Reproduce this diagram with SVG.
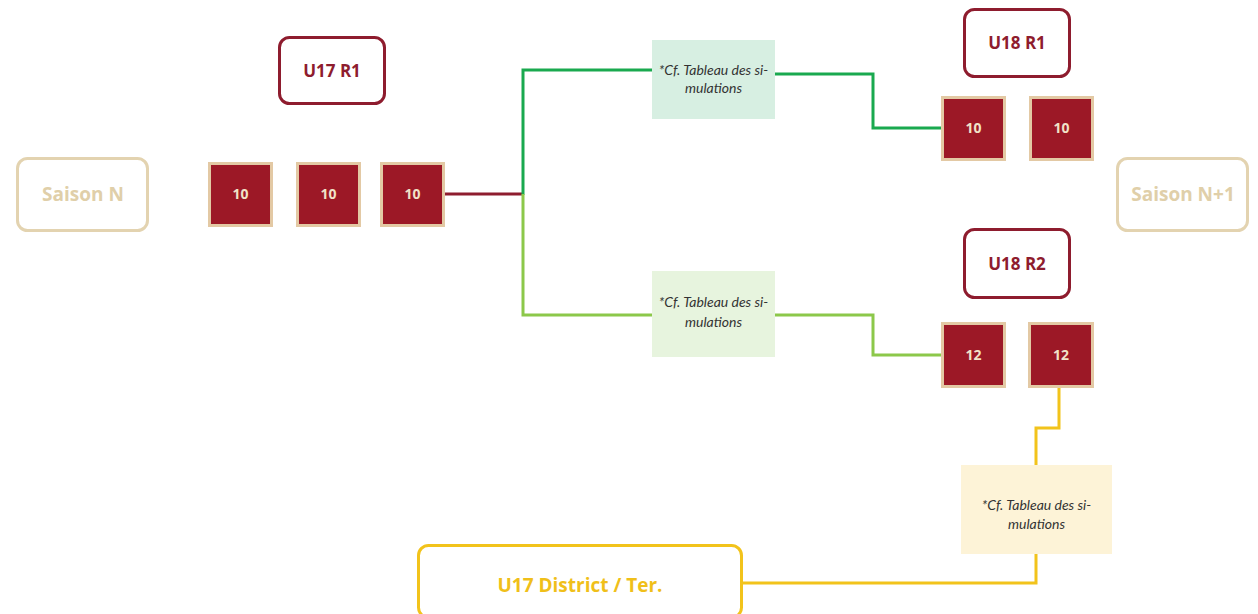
<svg xmlns="http://www.w3.org/2000/svg" width="1258" height="614" viewBox="0 0 1258 614">
<style>
.season{fill:#fff;stroke:#e3d3b0;stroke-width:3}
.season-t{font-family:"Open Sans","Liberation Sans",sans-serif;font-weight:700;font-size:19px;fill:#e0cfa9;text-anchor:middle}
.team{fill:#fff;stroke:#8e1c2e;stroke-width:3}
.team-t{font-family:"Open Sans","Liberation Sans",sans-serif;font-weight:700;font-size:17px;fill:#8e1c2e;text-anchor:middle}
.sq{fill:#9c1826;stroke:#e3c9a4;stroke-width:3}
.sq-t{font-family:"Open Sans","Liberation Sans",sans-serif;font-weight:700;font-size:14px;fill:#f1e2c8;text-anchor:middle}
.note-t{font-family:Lato,"Open Sans","Liberation Sans",sans-serif;font-style:italic;font-size:14px;fill:#333;text-anchor:middle}
.dist{fill:#fff;stroke:#f2c31b;stroke-width:3}
.dist-t{font-family:"Open Sans","Liberation Sans",sans-serif;font-weight:700;font-size:19px;fill:#f0bf1a;text-anchor:middle}
.c{fill:none;stroke-width:3}
</style>
<rect width="1258" height="614" fill="#fff"/>
<g id="connectors">
<path class="c" stroke="#8e1c2e" d="M445 194H524"/>
<path class="c" stroke="#1aa94f" d="M523 195V70H652"/>
<path class="c" stroke="#1aa94f" d="M775 74H873V128H942"/>
<path class="c" stroke="#8cc84a" d="M523 194V315H652"/>
<path class="c" stroke="#8cc84a" d="M775 315H873V355H942"/>
<path class="c" stroke="#f2c31b" d="M1059 387V428H1036V465"/>
<path class="c" stroke="#f2c31b" d="M1036 553V583H742"/>
</g>
<g id="saison-n"><rect class="season" x="17.5" y="158.5" width="130" height="72" rx="10"/><text class="season-t" x="83" y="201">Saison N</text></g>
<g id="saison-n1"><rect class="season" x="1117.5" y="158.5" width="130" height="72" rx="10"/><text class="season-t" x="1183" y="201">Saison N+1</text></g>
<g id="u17r1"><rect class="team" x="279.5" y="37.5" width="105" height="66" rx="10"/><text class="team-t" x="332" y="77">U17 R1</text></g>
<g id="sq1"><rect class="sq" x="209.5" y="163.5" width="62" height="62"/><text class="sq-t" x="240.5" y="199">10</text></g>
<g id="sq2"><rect class="sq" x="297.5" y="163.5" width="62" height="62"/><text class="sq-t" x="328.5" y="199">10</text></g>
<g id="sq3"><rect class="sq" x="381.5" y="163.5" width="62" height="62"/><text class="sq-t" x="412.5" y="199">10</text></g>
<g id="note1"><rect x="652" y="40" width="123" height="79" fill="#d7efe2"/><text class="note-t" x="713.5" y="75">*Cf. Tableau des si-</text><text class="note-t" x="713.5" y="93">mulations</text></g>
<g id="note2"><rect x="652" y="271" width="123" height="86" fill="#e7f4de"/><text class="note-t" x="713.5" y="307">*Cf. Tableau des si-</text><text class="note-t" x="713.5" y="327">mulations</text></g>
<g id="note3"><rect x="961" y="465" width="151" height="89" fill="#fdf3d7"/><text class="note-t" x="1036.5" y="510">*Cf. Tableau des si-</text><text class="note-t" x="1036.5" y="529">mulations</text></g>
<g id="u18r1"><rect class="team" x="964.5" y="9.5" width="105" height="67" rx="10"/><text class="team-t" x="1017" y="49">U18 R1</text></g>
<g id="sq4"><rect class="sq" x="942.5" y="97.5" width="62" height="62"/><text class="sq-t" x="973.5" y="133">10</text></g>
<g id="sq5"><rect class="sq" x="1030.5" y="97.5" width="62" height="62"/><text class="sq-t" x="1061.5" y="133">10</text></g>
<g id="u18r2"><rect class="team" x="964.5" y="229.5" width="105" height="68" rx="10"/><text class="team-t" x="1017" y="270">U18 R2</text></g>
<g id="sq6"><rect class="sq" x="942.5" y="323.5" width="62" height="63"/><text class="sq-t" x="973.5" y="360">12</text></g>
<g id="sq7"><rect class="sq" x="1029.5" y="323.5" width="63" height="63"/><text class="sq-t" x="1061" y="360">12</text></g>
<g id="u17dist"><rect class="dist" x="418.5" y="545.5" width="323" height="72" rx="10"/><text class="dist-t" x="580" y="592">U17 District / Ter.</text></g>
</svg>
